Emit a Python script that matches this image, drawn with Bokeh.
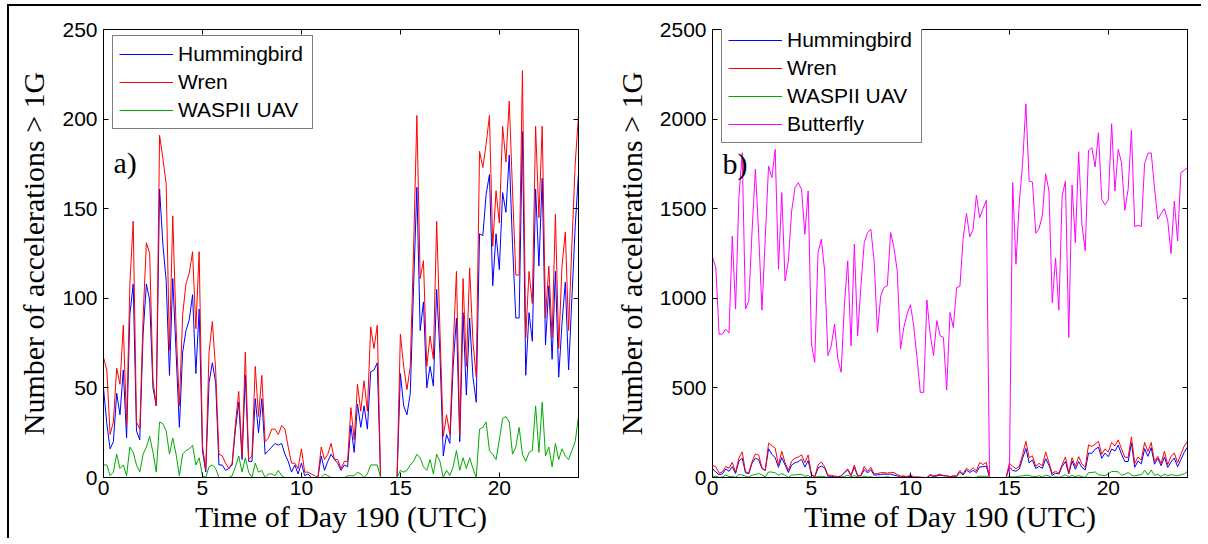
from bokeh.plotting import figure
from bokeh.models import Legend, LegendItem, LinearAxis, FixedTicker, Label, Range1d
from bokeh.layouts import row
from bokeh.embed import file_html
from bokeh.resources import INLINE

# 10-minute samples over day 190 (hours)
time_h = [i / 6 for i in range(145)]

hummingbird = [50, 30, 16, 20, 47, 35, 60, 22, 91, 108,
               26, 21, 80, 108, 99, 50, 40, 161, 130, 110,
               57, 111, 70, 28, 70, 82, 88, 102, 58, 94,
               15, 3, 53, 64, 53, 7, 7, 4, 5, 7,
               27, 42, 10, 57, 9, 9, 44, 25, 44, 13,
               15, 17, 19, 18, 19, 13, 9, 3, 7, 2,
               8, 1, 2, 0, 0, 0, 12, 4, 9, 13,
               10, 8, 4, 7, 6, 29, 14, 41, 28, 40,
               27, 59, 60, 64, 0, 0, 0, 0, 0, 0,
               58, 40, 35, 47, 106, 162, 82, 98, 50, 62,
               51, 105, 69, 12, 24, 19, 62, 89, 20, 92,
               46, 89, 56, 42, 136, 135, 158, 169, 107, 136,
               116, 159, 148, 180, 130, 89, 89, 193, 57, 92,
               76, 161, 118, 167, 74, 107, 66, 115, 56, 86,
               109, 60, 100, 140, 170]

wren = [67, 60, 24, 31, 61, 52, 85, 29, 108, 143,
        31, 27, 89, 131, 125, 54, 40, 191, 178, 164,
        71, 146, 84, 40, 91, 108, 114, 126, 83, 126,
        18, 4, 70, 87, 60, 13, 12, 8, 5, 8,
        30, 48, 12, 70, 10, 12, 62, 34, 57, 20,
        22, 27, 27, 24, 29, 27, 17, 8, 8, 5,
        16, 3, 3, 2, 1, 0, 17, 10, 13, 19,
        10, 10, 5, 9, 9, 39, 21, 52, 37, 54,
        37, 84, 72, 85, 0, 0, 0, 0, 0, 0,
        80, 62, 49, 62, 127, 202, 111, 121, 62, 79,
        66, 143, 82, 23, 35, 24, 72, 115, 24, 111,
        62, 117, 76, 56, 182, 173, 186, 202, 129, 160,
        142, 196, 176, 210, 160, 113, 113, 227, 78, 115,
        97, 196, 145, 196, 89, 118, 78, 147, 72, 118,
        137, 82, 130, 175, 202]

waspii_uav = [7, 7, 1, 3, 13, 5, 7, 1, 17, 14,
              7, 3, 13, 17, 23, 14, 3, 31, 30, 26,
              13, 22, 13, 1, 13, 15, 16, 18, 7, 11,
              1, 0, 6, 7, 5, 0, 0, 0, 0, 1,
              6, 12, 3, 11, 3, 0, 8, 3, 4, 0,
              2, 2, 1, 4, 1, 0, 0, 0, 0, 0,
              0, 0, 0, 0, 0, 0, 0, 2, 1, 0,
              0, 0, 0, 0, 1, 1, 1, 3, 2, 0,
              2, 7, 7, 7, 0, 0, 0, 0, 0, 0,
              4, 3, 4, 7, 9, 13, 11, 6, 4, 10,
              2, 13, 9, 0, 4, 1, 6, 15, 4, 11,
              5, 11, 5, 0, 27, 28, 31, 15, 13, 10,
              21, 33, 34, 31, 13, 17, 28, 13, 9, 14,
              15, 40, 14, 42, 12, 17, 6, 19, 10, 16,
              12, 10, 15, 20, 34]

butterfly = [1227, 1172, 800, 800, 828, 806, 1348, 940, 1562, 1812,
             940, 986, 1376, 1720, 1357, 934, 1339, 1738, 1673, 1831,
             1162, 1590, 1097, 1209, 1487, 1617, 1645, 1608, 1357, 1599,
             745, 643, 1255, 1330, 1153, 680, 735, 856, 661, 587,
             967, 1209, 735, 1302, 791, 1070, 1311, 1367, 1385, 1209,
             810, 1014, 1060, 1070, 1367, 1283, 1153, 717, 838, 912,
             964, 847, 670, 475, 475, 990, 800, 680, 875, 791,
             782, 488, 921, 837, 1060, 1066, 1339, 1474, 1343, 1385,
             1575, 1450, 1500, 1547, 0, 0, 0, 0, 0, 0,
             0, 1645, 1190, 1534, 1747, 2085, 1654, 1649, 1363, 1389,
             1463, 1695, 1599, 977, 1224, 934, 1571, 1654, 782, 1632,
             1311, 1818, 1409, 1265, 1825, 1840, 1733, 1924, 1552, 1521,
             1549, 1974, 1599, 1831, 1757, 1491, 1608, 1937, 1400, 1407,
             1400, 1751, 1809, 1812, 1617, 1441, 1473, 1500, 1435, 1250,
             1543, 1320, 1701, 1715, 1729]

x_ticks = [0, 5, 10, 15, 20]
a_y_ticks = [0, 50, 100, 150, 200, 250]
b_y_ticks = [0, 500, 1000, 1500, 2000, 2500]

SANS = "Liberation Sans"
SERIF = "Liberation Serif"
FRAME_W, FRAME_H = 475, 448
TOP, HEIGHT = 23, 532


def style_axis(ax, ticks, show_labels=True):
    ax.ticker = FixedTicker(ticks=ticks)
    ax.axis_line_color = "black"
    ax.axis_line_width = 1
    ax.major_tick_in = 5
    ax.major_tick_out = 0
    ax.major_tick_line_color = "black"
    ax.minor_tick_line_color = None
    if show_labels:
        ax.major_label_text_font = SANS
        ax.major_label_text_font_size = "21px"
        ax.major_label_text_color = "black"
    else:
        ax.major_label_overrides = {t: "" for t in ticks}
        ax.major_label_text_font_size = "1px"
        ax.major_label_standoff = 0


def make_panel(width, left, ymax, yticks, series, tag, tag_y, legend_loc):
    p = figure(width=width, height=HEIGHT,
               x_range=Range1d(0, 24), y_range=Range1d(0, ymax),
               output_backend="svg", toolbar_location=None,
               min_border_left=left, min_border_right=width - left - FRAME_W,
               min_border_top=TOP, min_border_bottom=HEIGHT - TOP - FRAME_H,
               x_axis_label="Time of Day 190 (UTC)",
               y_axis_label="Number of accelerations > 1G")
    p.grid.visible = False
    p.outline_line_color = "black"
    p.background_fill_color = "white"
    p.border_fill_color = "white"
    style_axis(p.xaxis[0], x_ticks)
    style_axis(p.yaxis[0], yticks)
    for ax in (p.xaxis[0], p.yaxis[0]):
        ax.axis_label_text_font = SERIF
        ax.axis_label_text_font_size = "30px"
        ax.axis_label_text_font_style = "normal"
        ax.axis_label_text_color = "black"
    p.xaxis[0].major_label_standoff = 3
    p.xaxis[0].axis_label_standoff = 2
    p.yaxis[0].major_label_standoff = 6
    p.yaxis[0].axis_label_standoff = 9

    top_ax = LinearAxis()
    style_axis(top_ax, x_ticks, show_labels=False)
    p.add_layout(top_ax, "above")
    right_ax = LinearAxis()
    style_axis(right_ax, yticks, show_labels=False)
    p.add_layout(right_ax, "right")

    items = []
    for name, vals, color in series:
        r = p.line(time_h, vals, line_color=color, line_width=1)
        items.append(LegendItem(label=name, renderers=[r]))

    p.add_layout(Label(x=0.5, y=tag_y, text=tag, text_font=SERIF,
                       text_font_size="30px", text_color="black",
                       text_baseline="alphabetic"))

    legend = Legend(items=items, location=legend_loc)
    legend.label_text_font = SANS
    legend.label_text_font_size = "21px"
    legend.label_text_color = "black"
    legend.glyph_width = 54
    legend.glyph_height = 20
    legend.label_height = 20
    legend.label_width = 128
    legend.label_standoff = 5
    legend.spacing = 4
    legend.padding = 6
    legend.margin = 0
    legend.border_line_color = "black"
    legend.border_line_width = 1
    legend.background_fill_color = "white"
    legend.background_fill_alpha = 1.0
    p.add_layout(legend)
    return p


pa = make_panel(600, 94, 250, a_y_ticks,
                [("Hummingbird", hummingbird, "#0000FF"),
                 ("Wren", wren, "#FF0000"),
                 ("WASPII UAV", waspii_uav, "#00AA00")],
                "a)", 176, (9, 348))

pb = make_panel(592, 103, 2500, b_y_ticks,
                [("Hummingbird", hummingbird, "#0000FF"),
                 ("Wren", wren, "#FF0000"),
                 ("WASPII UAV", waspii_uav, "#00AA00"),
                 ("Butterfly", butterfly, "#FF00FF")],
                "b)", 1755, (9, 334))

layout = row(pa, pb, styles={"margin-top": "4px", "margin-left": "7px",
                             "border-top": "2px solid black",
                             "border-left": "2px solid black"})

open("out.html", "w").write(file_html(layout, INLINE))
